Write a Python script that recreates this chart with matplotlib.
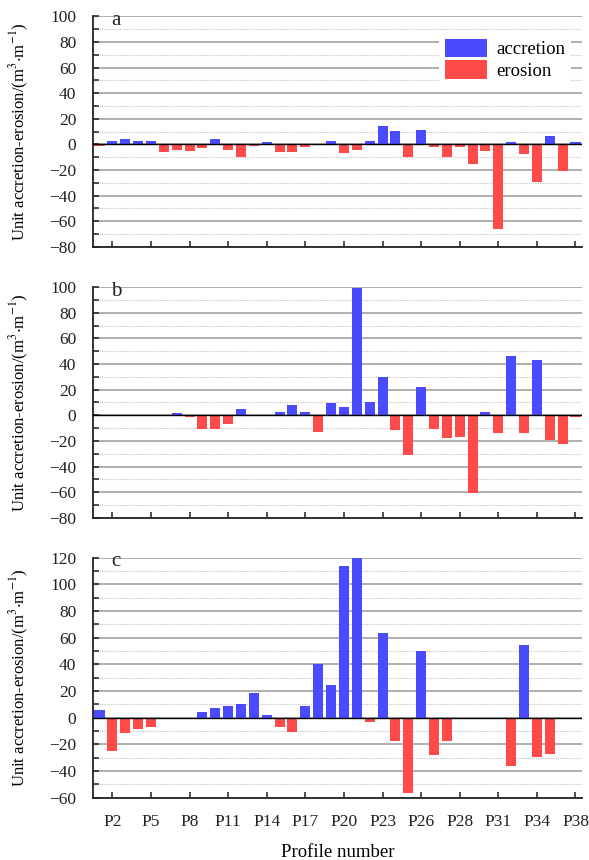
import numpy as np
import matplotlib
matplotlib.use("Agg")
import matplotlib.pyplot as plt
from matplotlib.ticker import MultipleLocator

plt.rcParams["font.family"] = ["Liberation Serif", "DejaVu Serif"]
plt.rcParams["mathtext.fontset"] = "stix"
plt.rcParams["axes.unicode_minus"] = True

# profiles P1..P38 (one bar each)
profiles = ["P%d" % i for i in range(1, 39)]
tick_idx = [1, 4, 7, 10, 13, 16, 19, 22, 25, 28, 31, 34, 37]
tick_labels = ["P2", "P5", "P8", "P11", "P14", "P17", "P20", "P23",
               "P26", "P28", "P31", "P34", "P38"]

# unit accretion (+) / erosion (-) values, m3/m
vals_a = [-1, 3, 4, 3, 3, -6, -4.5, -5.5, -3, 4,
          -4, -10, -1.5, 1.6, -6, -6, -2.3, 0, 3, -7,
          -4.7, 3, 14, 10.2, -10, 11, -2.3, -10, -2, -15.7,
          -5.5, -65.8, 1.6, -7.8, -29, 6.3, -21, 1.6]
vals_b = [0, 0, 0, 0, 0, 0, 1.6, -1.6, -11, -11,
          -7, 4.7, 0, 0, 2.3, 7.8, 2.3, -13.3, 9.4, 6.3,
          99.3, 10.2, 29.7, -11.7, -31.3, 21.9, -11, -18, -17.2, -61,
          2.3, -14, 46.2, -14, 43, -19.6, -22.7, -1.6]
vals_c = [5.75, -24.75, -11.25, -8.25, -6.75, 0, 0, 0, 4.25, 7.25,
          8.75, 10.25, 18.5, 2, -6.75, -10.5, 8.75, 40.25, 24.5, 113.75,
          119.75, -3, 63.5, -17.25, -56.25, 50, -27.75, -17.25, 0, 0,
          0, 0, -36, 54.5, -29.25, -27, 0, 0]

panels = [("a", vals_a, (-80, 100)), ("b", vals_b, (-80, 100)), ("c", vals_c, (-60, 120))]
blue = "#4a4aff"
red = "#ff4a4a"

fig = plt.figure(figsize=(5.89, 8.6), dpi=100)
boxes = [(0.158, 0.713, 0.830, 0.268),
         (0.158, 0.398, 0.830, 0.268),
         (0.158, 0.0724, 0.830, 0.2791)]

x = np.arange(len(profiles))
ylab = "Unit accretion-erosion/(m$^{3}$$\\cdot$m$^{-1}$)"

for i, (letter, vals, ylim) in enumerate(panels):
    ax = fig.add_axes(boxes[i])
    v = np.array(vals, dtype=float)
    acc = np.where(v > 0, v, 0)
    ero = np.where(v < 0, v, 0)
    ax.bar(x, acc, width=0.78, color=blue, label="accretion", zorder=3)
    ax.bar(x, ero, width=0.78, color=red, label="erosion", zorder=3)
    ax.axhline(0, color="black", lw=1.0, zorder=4)

    ax.set_xlim(-0.5, len(profiles) - 0.5)
    ax.set_ylim(*ylim)
    ax.yaxis.set_major_locator(MultipleLocator(20))
    ax.yaxis.set_minor_locator(MultipleLocator(10))
    ax.grid(axis="y", which="major", color="#9a9a9a", lw=1.1, zorder=0)
    ax.grid(axis="y", which="minor", color="#c4c4c4", lw=0.8, ls=(0, (1, 1)), zorder=0)

    ax.set_xticks(tick_idx)
    if i == 2:
        ax.set_xticklabels(tick_labels)
        ax.set_xlabel("Profile number", fontsize=13.5, labelpad=10)
    else:
        ax.set_xticklabels([])

    for s in ["top", "right"]:
        ax.spines[s].set_visible(False)
    for s in ["left", "bottom"]:
        ax.spines[s].set_linewidth(1.3)
        ax.spines[s].set_color("#222222")
    ax.tick_params(axis="both", which="both", direction="in", length=4, width=1.1,
                   labelsize=12.5, colors="#222222")
    ax.tick_params(axis="x", pad=12)
    ax.tick_params(axis="y", pad=12)
    ax.set_ylabel(ylab, fontsize=12)
    ax.yaxis.set_label_coords(-0.127, 0.5)

    ax.text(0.037, 0.964, letter, transform=ax.transAxes, fontsize=15,
            va="baseline", ha="left", color="#222222")

    if i == 0:
        leg = ax.legend(loc="upper right", bbox_to_anchor=(0.997, 0.968),
                        fontsize=13.5, frameon=True, fancybox=False,
                        facecolor="white", edgecolor="none", framealpha=1,
                        handlelength=2.25, handleheight=1.15, labelspacing=0.1,
                        borderpad=0.3, handletextpad=0.5)
        leg.set_zorder(5)

fig.savefig("out.png", dpi=100)
